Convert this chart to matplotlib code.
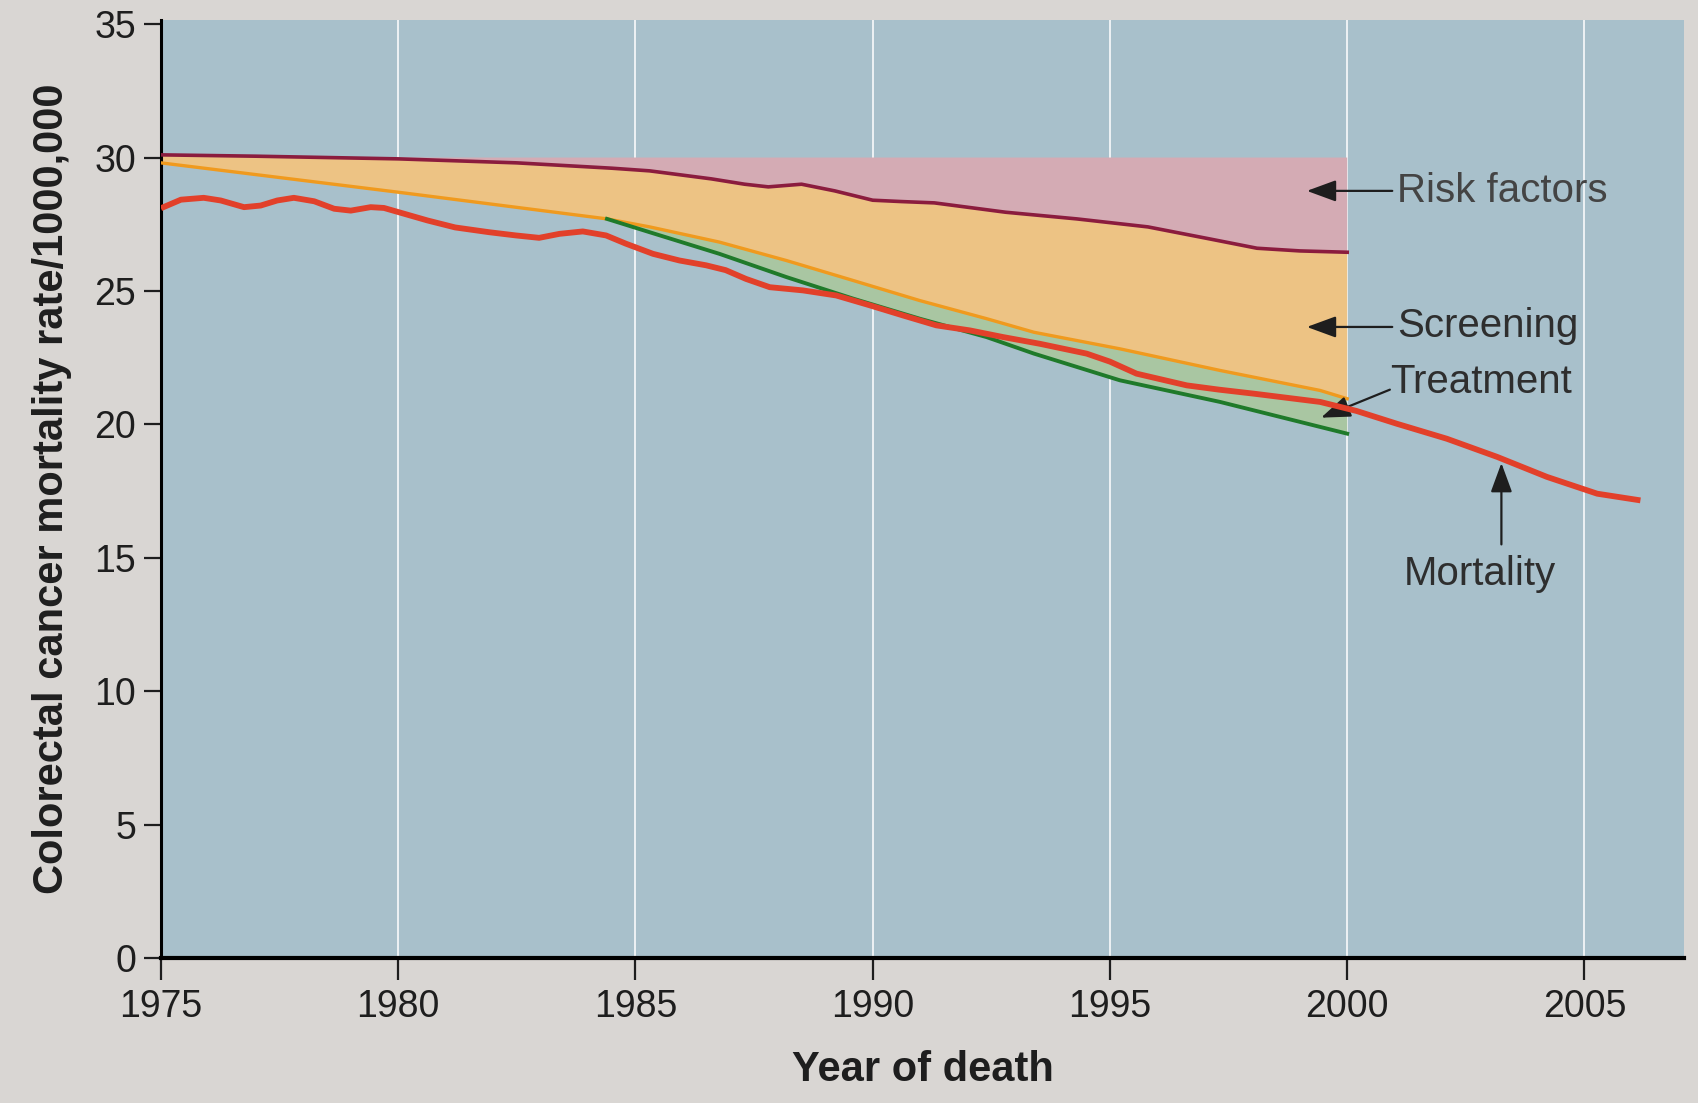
import matplotlib
matplotlib.use("Agg")
from matplotlib import pyplot as plt

# mortality (red)
mort_years = [1975.0, 1975.42, 1975.9, 1976.26, 1976.75, 1977.1, 1977.45, 1977.8, 1978.23, 1978.65,
              1979.0, 1979.42, 1979.7, 1980.13, 1980.62, 1981.2, 1981.92, 1982.48, 1982.97, 1983.4,
              1983.89, 1984.38, 1984.8, 1985.37, 1985.93, 1986.49, 1986.9, 1987.33, 1987.83, 1988.53,
              1989.23, 1989.94, 1990.64, 1991.34, 1992.05, 1992.75, 1993.52, 1994.51, 1995.0, 1995.56,
              1996.62, 1997.3, 1998.03, 1999.43, 2000.2, 2001.05, 2002.1, 2003.16, 2004.21, 2005.27,
              2006.18]
mort = [28.1, 28.42, 28.49, 28.39, 28.14, 28.2, 28.39, 28.49, 28.36, 28.08,
        28.01, 28.14, 28.11, 27.89, 27.64, 27.38, 27.2, 27.08, 26.99, 27.14,
        27.23, 27.08, 26.77, 26.39, 26.14, 25.96, 25.78, 25.45, 25.14, 25.02,
        24.83, 24.46, 24.08, 23.71, 23.52, 23.27, 23.02, 22.65, 22.35, 21.9,
        21.46, 21.3, 21.15, 20.84, 20.5, 20.02, 19.46, 18.78, 18.03, 17.4,
        17.15]

# expected without risk factor change (maroon)
risk_years = [1975.0, 1977.0, 1980.0, 1982.5, 1984.5, 1985.3, 1986.6, 1987.3, 1987.8, 1988.5,
              1989.2, 1990.0, 1990.6, 1991.3, 1992.8, 1994.3, 1995.8, 1997.1, 1998.1, 1999.0,
              2000.0]
risk = [30.1, 30.05, 29.95, 29.8, 29.6, 29.5, 29.2, 29.0, 28.9, 29.0,
        28.75, 28.4, 28.35, 28.3, 27.95, 27.7, 27.4, 26.95, 26.6, 26.5,
        26.45]

# after screening (orange)
scr_years = [1975.0, 1980.0, 1984.4, 1985.3, 1986.77, 1988.18, 1989.59, 1990.99, 1992.4, 1993.4,
             1995.21, 1997.32, 1999.43, 2000.0]
scr = [29.8, 28.7, 27.7, 27.4, 26.83, 26.14, 25.39, 24.64, 23.96, 23.45,
       22.83, 22.02, 21.27, 20.96]

# after treatment (green)
trt_years = [1984.4, 1985.3, 1986.77, 1988.18, 1989.59, 1990.99, 1992.4, 1993.4, 1995.21, 1997.32,
             2000.0]
trt = [27.7, 27.2, 26.39, 25.52, 24.71, 23.96, 23.27, 22.65, 21.65, 20.84,
       19.65]

baseline = 30.0
xticks = [1975, 1980, 1985, 1990, 1995, 2000, 2005]
yticks = [0, 5, 10, 15, 20, 25, 30, 35]

page = "#d9d6d3"
plt.rcParams['font.family'] = ['Liberation Sans', 'DejaVu Sans']
fig = plt.figure(figsize=(16.98, 11.03), dpi=100, facecolor=page)
ax = fig.add_axes([0.0948, 0.1315, 0.8970, 0.8505])
ax.set_facecolor("#a8c0cb")

# shaded bands
ax.fill([risk_years[0], risk_years[-1]] + risk_years[::-1],
        [baseline, baseline] + risk[::-1], color="#d4abb4", lw=0, zorder=1)
ax.fill(risk_years + scr_years[::-1], risk + scr[::-1], color="#edc384", lw=0, zorder=1)
k = scr_years.index(trt_years[0])
ax.fill(scr_years[k:] + trt_years[::-1], scr[k:] + trt[::-1], color="#a9c6a2", lw=0, zorder=1)

ax.plot(risk_years, risk, color="#8b1c3e", lw=2.6, zorder=3, solid_joinstyle='round')
ax.plot(scr_years, scr, color="#f09a1e", lw=2.4, zorder=3, solid_joinstyle='round')
ax.plot(trt_years, trt, color="#1f7a2a", lw=2.8, zorder=3, solid_joinstyle='round')
ax.plot(mort_years, mort, color="#e2402a", lw=4.2, zorder=4, solid_capstyle='butt',
        solid_joinstyle='round')

for x in xticks[1:]:
    ax.axvline(x, color="white", lw=1.3, alpha=0.85, zorder=0.5)

ax.set_xlim(1975, 2007.1)
ax.set_ylim(0, 35.16)
ax.set_xticks(xticks)
ax.set_yticks(yticks)
for s in ["top", "right"]:
    ax.spines[s].set_visible(False)
ax.spines["left"].set_linewidth(2.2)
ax.spines["bottom"].set_linewidth(3)
ax.tick_params(axis="x", length=16, width=1.6, pad=6, labelsize=27, colors="#1e1e1e")
ax.tick_params(axis="y", length=12, width=1.6, pad=6, labelsize=27, colors="#1e1e1e")

ax.set_xlabel("Year of death", fontsize=30, fontweight="bold", color="#1e1e1e", labelpad=18)
ax.set_ylabel("Colorectal cancer mortality rate/1000,000", fontsize=30, fontweight="bold",
              color="#1e1e1e", labelpad=16)

arrow = dict(arrowstyle="-|>,head_length=0.6,head_width=0.22", color="#1e1e1e", lw=1.6,
             mutation_scale=30, shrinkA=0, shrinkB=0)
tcol = "#2e2e2e"
ax.annotate("", xy=(1999.15, 28.75), xytext=(2000.95, 28.75), arrowprops=arrow)
ax.text(2001.05, 28.75, "Risk factors", fontsize=29, color="#444444", va="center", ha="left")
ax.annotate("", xy=(1999.15, 23.65), xytext=(2000.95, 23.65), arrowprops=arrow)
ax.text(2001.05, 23.7, "Screening", fontsize=29, color=tcol, va="center", ha="left")
ax.annotate("", xy=(1999.45, 20.25), xytext=(2000.9, 21.3), arrowprops=arrow)
ax.text(2000.9, 21.6, "Treatment", fontsize=29, color=tcol, va="center", ha="left")
ax.annotate("", xy=(2003.25, 18.55), xytext=(2003.25, 15.5), arrowprops=arrow)
ax.text(2002.8, 14.4, "Mortality", fontsize=29, color=tcol, va="center", ha="center")

fig.savefig("out.png", dpi=100, facecolor=page)
